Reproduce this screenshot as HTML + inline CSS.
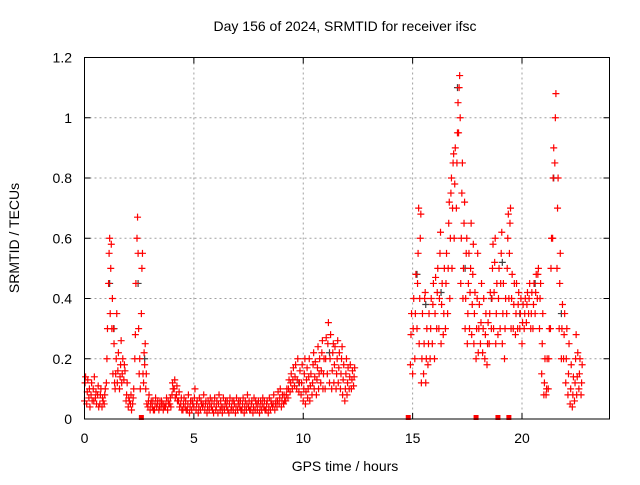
<!DOCTYPE html>
<html><head><meta charset="utf-8"><style>
body{margin:0;background:#fff;}
svg text{font-family:"Liberation Sans",sans-serif;}
</style></head><body>
<svg id="chart" width="640" height="480" viewBox="0 0 640 480" xmlns="http://www.w3.org/2000/svg">
<rect width="640" height="480" fill="#fff"/>
<g id="grid"></g>
<g id="marks"></g>
<rect x="84.5" y="57.5" width="525" height="361.5" fill="none" stroke="#000" stroke-width="1"/>
<g id="ticks"></g>
<text x="345" y="31" text-anchor="middle" font-size="14">Day 156 of 2024, SRMTID for receiver ifsc</text>
<text x="345" y="471" text-anchor="middle" font-size="14">GPS time / hours</text>
<text transform="translate(19,238) rotate(-90)" text-anchor="middle" font-size="14">SRMTID / TECUs</text>
</svg>
<script>
const xTicks=[0,5,10,15,20];
const yTicks=[0,0.2,0.4,0.6,0.8,1,1.2];
const yTickLabels=["0","0.2","0.4","0.6","0.8","1","1.2"];
const seg1Start=0, seg1Step=0.1;
const seg1Values=[
[0.06,0.12,0.14],[0.05,0.09,0.13],[0.07,0.1,0.04],[0.08,0.12,0.06],[0.1,0.06,0.14],[0.07,0.09,0.05],[0.08,0.11,0.04],[0.05,0.08,0.1],[0.04,0.07,0.06],[0.05,0.08,0.1],
[0.12,0.2,0.3],[0.45,0.55,0.6,0.35],[0.5,0.58,0.3,0.4],[0.15,0.3,0.25,0.12],[0.1,0.15,0.2,0.35],[0.12,0.16,0.22],[0.1,0.14,0.18,0.26],[0.12,0.15,0.2],[0.13,0.18,0.16],[0.06,0.08,0.12],
[0.04,0.07,0.06],[0.05,0.08,0.03],[0.05,0.07,0.1],[0.2,0.28,0.45],[0.6,0.67,0.55,0.3],[0.15,0.2,0.1],[0.35,0.5,0.55,0.15],[0.12,0.22,0.18,0.25],[0.1,0.15,0.05],[0.04,0.06,0.08],
[0.03,0.05,0.06],[0.04,0.06,0.03],[0.03,0.05,0.07],[0.04,0.05,0.06],[0.03,0.04,0.06],[0.04,0.06,0.05],[0.03,0.05,0.04],[0.04,0.05,0.07],[0.03,0.06,0.05],[0.05,0.07,0.04],
[0.08,0.12,0.1],[0.1,0.13,0.07],[0.08,0.11,0.06],[0.06,0.09,0.04],[0.05,0.07,0.03],[0.03,0.05,0.07],[0.04,0.06,0.03],[0.03,0.05,0.08],[0.02,0.04,0.06],[0.03,0.06,0.05],
[0.04,0.07,0.1],[0.03,0.05,0.06],[0.02,0.04,0.07],[0.03,0.06,0.05],[0.04,0.05,0.08],[0.03,0.05,0.06],[0.02,0.04,0.06],[0.03,0.05,0.07],[0.04,0.06,0.03],[0.02,0.05,0.07],
[0.03,0.04,0.06],[0.02,0.05,0.08],[0.03,0.06,0.04],[0.02,0.04,0.07],[0.03,0.05,0.06],[0.04,0.06,0.03],[0.02,0.05,0.07],[0.03,0.04,0.06],[0.03,0.06,0.05],[0.02,0.04,0.07],
[0.03,0.05,0.06],[0.04,0.06,0.03],[0.03,0.05,0.07],[0.02,0.04,0.06],[0.03,0.05,0.08],[0.04,0.06,0.03],[0.03,0.05,0.06],[0.02,0.04,0.07],[0.03,0.06,0.05],[0.03,0.05,0.06],
[0.02,0.04,0.06],[0.03,0.05,0.07],[0.04,0.06,0.03],[0.03,0.05,0.06],[0.02,0.04,0.07],[0.03,0.06,0.05],[0.04,0.05,0.08],[0.03,0.05,0.06],[0.04,0.06,0.09],[0.05,0.07,0.1],
[0.04,0.06,0.08],[0.05,0.08,0.06],[0.06,0.08,0.1],[0.07,0.1,0.13],[0.09,0.12,0.15],[0.1,0.13,0.17],[0.11,0.14,0.18],[0.1,0.13,0.2],[0.09,0.12,0.16],[0.08,0.12,0.18],
[0.06,0.1,0.15,0.2],[0.05,0.09,0.13,0.17],[0.07,0.1,0.14,0.2],[0.06,0.11,0.15],[0.08,0.12,0.18,0.22],[0.1,0.14,0.19],[0.08,0.13,0.17,0.24],[0.1,0.15,0.2],[0.12,0.16,0.22,0.26],[0.1,0.15,0.2],
[0.1,0.2,0.27],[0.15,0.25,0.32],[0.12,0.2,0.28],[0.1,0.16,0.22,0.25],[0.12,0.18,0.24],[0.1,0.15,0.2,0.26],[0.12,0.17,0.22],[0.1,0.15,0.2,0.24],[0.08,0.13,0.18],[0.06,0.1,0.15,0.2],
[0.08,0.12,0.17],[0.1,0.14,0.18],[0.1,0.13,0.16],[0.11,0.14,0.17]
];
const seg2Start=14.9, seg2Step=0.1;
const seg2Values=[
[0.18,0.28,0.35],[0.15,0.3,0.4],[0.2,0.35,0.48],[0.3,0.45,0.55,0.7],[0.25,0.4,0.6,0.68],[0.12,0.2,0.35],[0.15,0.25,0.4,0.42],[0.12,0.2,0.3],[0.18,0.25,0.35],[0.2,0.3,0.4],[0.25,0.38,0.45],
[0.2,0.35,0.47],[0.3,0.42,0.5],[0.3,0.4,0.55,0.62],[0.25,0.38,0.45],[0.28,0.35,0.5],[0.3,0.45,0.55],[0.35,0.5,0.65,0.72],[0.4,0.6,0.75,0.8],[0.5,0.7,0.85,0.88],[0.6,0.78,0.9],
[0.7,0.85,0.95,1.05],[0.95,1.1,1.14,1.0],[0.45,0.6,0.75,0.85],[0.4,0.5,0.65,0.72],[0.3,0.4,0.55,0.6],[0.25,0.35,0.45,0.55],[0.3,0.42,0.5,0.65],[0.28,0.38,0.48,0.58],[0.25,0.35,0.42],[0.2,0.3,0.4,0.55],
[0.22,0.3,0.38],[0.25,0.32,0.45],[0.22,0.3,0.4],[0.2,0.28,0.35],[0.18,0.25,0.32],[0.25,0.35,0.42],[0.3,0.4,0.5,0.58],[0.3,0.42,0.52,0.6],[0.25,0.35,0.45],[0.28,0.4,0.5],
[0.3,0.45,0.55,0.62],[0.25,0.35,0.45],[0.2,0.3,0.4],[0.35,0.5,0.6,0.68],[0.4,0.55,0.65,0.7],[0.3,0.4,0.48],[0.3,0.38,0.45],[0.28,0.35,0.45],[0.3,0.38,0.42],[0.3,0.35,0.4],
[0.25,0.32,0.38],[0.3,0.35,0.4],[0.32,0.38,0.42],[0.35,0.4,0.45],[0.3,0.35,0.42],[0.3,0.38,0.45],[0.35,0.42,0.48],[0.4,0.48,0.5],[0.3,0.4,0.45],[0.15,0.25,0.35],
[0.08,0.12,0.2],[0.08,0.1,0.2],[0.1,0.2,0.3],[0.3,0.5,0.6],[0.6,0.8,0.9],[0.85,1.0,1.08],[0.5,0.7,0.8],[0.3,0.45,0.55],[0.2,0.3,0.38],[0.2,0.28,0.35],
[0.12,0.2,0.3],[0.08,0.15,0.25],[0.05,0.1,0.18],[0.04,0.08,0.14],[0.06,0.12,0.2,0.28],[0.08,0.14,0.22],[0.1,0.15,0.2],[0.08,0.12,0.18]
];
const blackTimes=[1.15,1.35,2.45,2.75,9.8,11.2,15.2,15.6,16.3,17.05,17.4,18.6,19.1,19.9,20.6,21.45,21.8];
const blackValues=[0.45,0.3,0.45,0.2,0.12,0.22,0.48,0.38,0.42,1.1,0.5,0.4,0.52,0.35,0.45,0.8,0.35];
const zeroTimes=[2.6,14.8,17.9,18.9,19.4];

const X0=84.5,X1=609.5,Y0=419,Y1=57.5;
const xScale=t=>X0+(t/24)*(X1-X0);
const yScale=v=>Y0-(v/1.2)*(Y0-Y1);
const NS="http://www.w3.org/2000/svg";
function mk(tag,parent){const e=document.createElementNS(NS,tag);parent.appendChild(e);return e;}
const grid=document.getElementById('grid'),ticks=document.getElementById('ticks'),marks=document.getElementById('marks');

xTicks.forEach(t=>{
  const x=xScale(t);
  if(t>0){const g=mk('line',grid);
  
  
  g.setAttribute('x1',x);g.setAttribute('x2',x);g.setAttribute('y1',Y1);g.setAttribute('y2',Y0);
  g.setAttribute('stroke','#a0a0a0');g.setAttribute('stroke-dasharray','2,3');}
  const tk=mk('path',ticks);
  
  
  tk.setAttribute('d',`M${x},${Y0}v-6M${x},${Y1}v6`);tk.setAttribute('stroke','#000');
  const lb=mk('text',ticks);
  
  
  lb.setAttribute('x',x);lb.setAttribute('y',443);lb.setAttribute('text-anchor','middle');lb.setAttribute('font-size','14');
  lb.textContent=String(t);
});
yTicks.forEach((v,i)=>{
  const y=yScale(v);
  if(v>0&&v<1.2){const g=mk('line',grid);
  
  
  g.setAttribute('x1',X0);g.setAttribute('x2',X1);g.setAttribute('y1',y);g.setAttribute('y2',y);
  g.setAttribute('stroke','#a0a0a0');g.setAttribute('stroke-dasharray','2,3');}
  const tk=mk('path',ticks);
  
  
  tk.setAttribute('d',`M${X0},${y}h6M${X1},${y}h-6`);tk.setAttribute('stroke','#000');
  const lb=mk('text',ticks);
  
  
  lb.setAttribute('x',72);lb.setAttribute('y',y+5);lb.setAttribute('text-anchor','end');lb.setAttribute('font-size','14');
  lb.textContent=yTickLabels[i];
});
function plus(t,v,col){
  const p=mk('path',marks);
  
  
  const x=xScale(t),y=yScale(v);
  p.setAttribute('d',`M${x-3.5},${y}h7M${x},${y-3.5}v7`);
  p.setAttribute('stroke',col);p.setAttribute('stroke-width','1.2');
}
blackTimes.forEach((t,i)=>plus(t,blackValues[i],'#404040'));
seg1Values.forEach((arr,i)=>arr.forEach((v,k)=>plus(seg1Start+i*seg1Step+k*0.025,v,'#ff0000')));
seg2Values.forEach((arr,i)=>arr.forEach((v,k)=>plus(seg2Start+i*seg2Step+k*0.025,v,'#ff0000')));
zeroTimes.forEach(t=>{
  const r=mk('rect',marks);
  
  
  r.setAttribute('x',xScale(t)-2.5);r.setAttribute('y',yScale(0)-4);r.setAttribute('width',5);r.setAttribute('height',5);r.setAttribute('fill','#ff0000');
});
</script>
</body></html>
